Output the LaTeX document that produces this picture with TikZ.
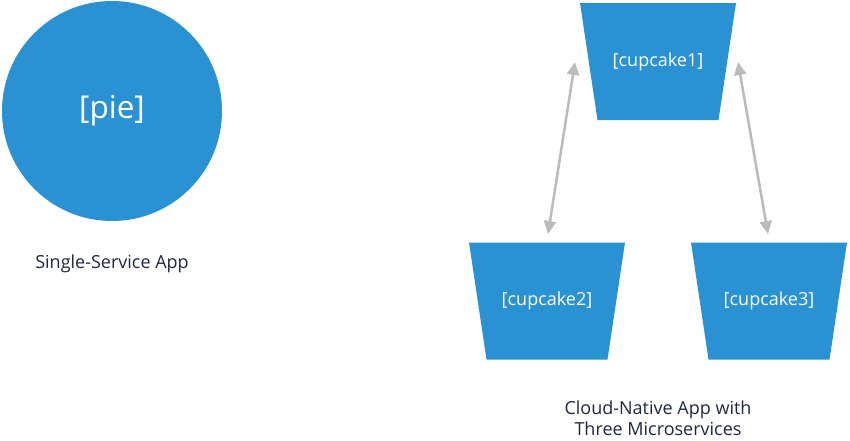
\documentclass[tikz,border=0pt]{standalone}
\usepackage{fontspec}
\setmainfont{Open Sans}
\usetikzlibrary{arrows.meta}
\definecolor{appblue}{HTML}{2A92D2}
\definecolor{linkgray}{HTML}{BBBBBB}
\definecolor{captext}{HTML}{1E2747}

\begin{document}
\begin{tikzpicture}[x=1pt,y=-1pt,
    service/.style={circle, fill=appblue, minimum size=220pt, inner sep=0pt,
      text=white, font=\fontsize{31.5}{36}\selectfont},
    cupcake/.style={minimum width=156pt, minimum height=117pt, inner sep=0pt,
      text=white, font=\fontsize{18}{22}\selectfont,
      path picture={\fill[appblue] (path picture bounding box.north west)
        -- (path picture bounding box.north east)
        -- ([xshift=-17.5pt]path picture bounding box.south east)
        -- ([xshift=17.5pt]path picture bounding box.south west) -- cycle;}},
    caption/.style={text=captext, align=center, font=\fontsize{18}{21}\selectfont},
    link/.style={linkgray, line width=2.5pt, {Triangle[length=13pt,width=12pt]}-{Triangle[length=13pt,width=12pt]}}]
  \useasboundingbox (0,0) rectangle (850,440);
  % single service
  \node[service] (pie) at (112,111) {[pie]};
  \node[caption] (pielabel) at (112,264) {Single-Service App};
  % microservices
  \node[cupcake] (cup1) at (658,61.5) {[cupcake1]};
  \node[cupcake] (cup2) at (547,301) {[cupcake2]};
  \node[cupcake] (cup3) at (769,301) {[cupcake3]};
  \node[caption] (cuplabel) at (658,418) {Cloud-Native App with\\Three Microservices};
  \coordinate (l1) at (575,62);
  \coordinate (l2) at (548,234);
  \coordinate (r1) at (738,62);
  \coordinate (r3) at (768,234);
  \draw[link] (l1) -- (l2);
  \draw[link] (r1) -- (r3);
\end{tikzpicture}
\end{document}
